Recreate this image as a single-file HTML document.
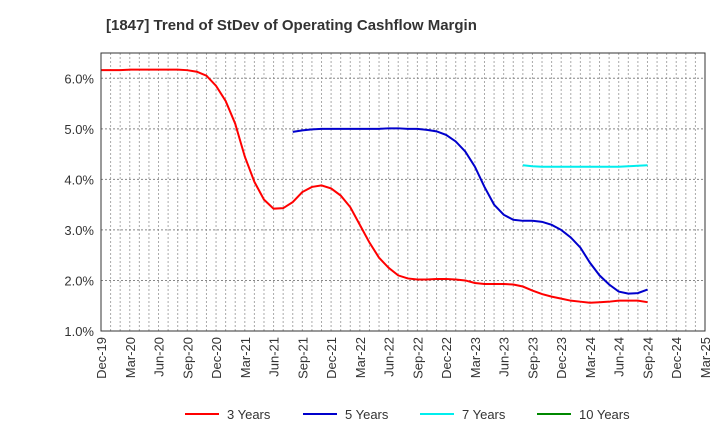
<!DOCTYPE html>
<html><head><meta charset="utf-8"><style>
body{margin:0;background:#fff;font-family:"Liberation Sans",sans-serif}
</style></head><body>
<svg id="chart" width="720" height="440" xmlns="http://www.w3.org/2000/svg">
<text x="106" y="30" font-size="15" font-weight="bold" fill="#333">[1847]  Trend of StDev of Operating Cashflow Margin</text>
<g id="grid"></g><g id="series"></g><g id="axes"></g>
<g id="legend"></g>
</svg>
<script>
const xLabels=["Dec-19","Mar-20","Jun-20","Sep-20","Dec-20","Mar-21","Jun-21","Sep-21","Dec-21","Mar-22","Jun-22","Sep-22","Dec-22","Mar-23","Jun-23","Sep-23","Dec-23","Mar-24","Jun-24","Sep-24","Dec-24","Mar-25"];
const yTicks=[1,2,3,4,5,6];
const s3Start=0;
const s3=[6.16,6.16,6.16,6.17,6.17,6.17,6.17,6.17,6.17,6.16,6.13,6.05,5.85,5.55,5.1,4.45,3.95,3.6,3.42,3.43,3.55,3.75,3.85,3.88,3.82,3.68,3.45,3.1,2.75,2.45,2.25,2.1,2.04,2.02,2.02,2.03,2.03,2.02,2.0,1.95,1.93,1.93,1.93,1.92,1.88,1.8,1.73,1.68,1.64,1.6,1.58,1.56,1.57,1.58,1.6,1.6,1.6,1.57];
const s5Start=20;
const s5=[4.94,4.97,4.99,5.0,5.0,5.0,5.0,5.0,5.0,5.0,5.01,5.01,5.0,5.0,4.98,4.95,4.88,4.75,4.55,4.25,3.85,3.5,3.3,3.2,3.18,3.18,3.16,3.1,3.0,2.85,2.65,2.35,2.1,1.92,1.78,1.74,1.75,1.82];
const s7Start=44;
const s7=[4.28,4.26,4.25,4.25,4.25,4.25,4.25,4.25,4.25,4.25,4.25,4.26,4.27,4.28];
const L=101,R=705,T=53,B=331,yMin=1,yMax=6.5,months=63;
const X=m=>L+(R-L)*m/months, Y=v=>B-(B-T)*(v-yMin)/(yMax-yMin);
const NS="http://www.w3.org/2000/svg";
function mk(t,a,p){const e=document.createElementNS(NS,t);for(const k in a)e.setAttribute(k,a[k]);p.appendChild(e);return e;}
const grid=document.getElementById('grid'),axes=document.getElementById('axes'),ser=document.getElementById('series'),leg=document.getElementById('legend');
for(let m=1;m<months;m++){const l=mk('line',{x1:X(m),x2:X(m),y1:T,y2:B,stroke:'#aaa','stroke-dasharray':'2,2','stroke-width':1},grid);

}
yTicks.forEach(v=>{const l=mk('line',{x1:L,x2:R,y1:Y(v),y2:Y(v),stroke:'#888','stroke-dasharray':'2,2','stroke-width':1},grid);


const t=mk('text',{x:L-7,y:Y(v)+5,'text-anchor':'end','font-size':13,fill:'#333'},axes);t.textContent=v.toFixed(1)+'%';

});
const fr=mk('rect',{x:L,y:T,width:R-L,height:B-T,fill:'none',stroke:'#333','stroke-width':1},axes);


xLabels.forEach((s,i)=>{const x=X(i*3);const t=mk('text',{x:0,y:0,transform:`translate(${x+5},${B+6}) rotate(-90)`,'text-anchor':'end','font-size':13,fill:'#333'},axes);t.textContent=s;

});
function line(arr,start,col,name){const p=mk('polyline',{points:arr.map((v,i)=>X(start+i)+','+Y(v)).join(' '),fill:'none',stroke:col,'stroke-width':2},ser);

}
line(s3,s3Start,'#f00','series-3-years');
line(s5,s5Start,'#00c','series-5-years');
line(s7,s7Start,'#0ee','series-7-years');
const legItems=[["3 Years","#f00",185],["5 Years","#00c",303],["7 Years","#0ee",420],["10 Years","#080",537]];
legItems.forEach(([n,c,x])=>{const g=mk('g',{},leg);


mk('line',{x1:x,x2:x+34,y1:414,y2:414,stroke:c,'stroke-width':2},g);
const t=mk('text',{x:x+42,y:419,'font-size':13,fill:'#333'},g);t.textContent=n;});
</script>
</body></html>
